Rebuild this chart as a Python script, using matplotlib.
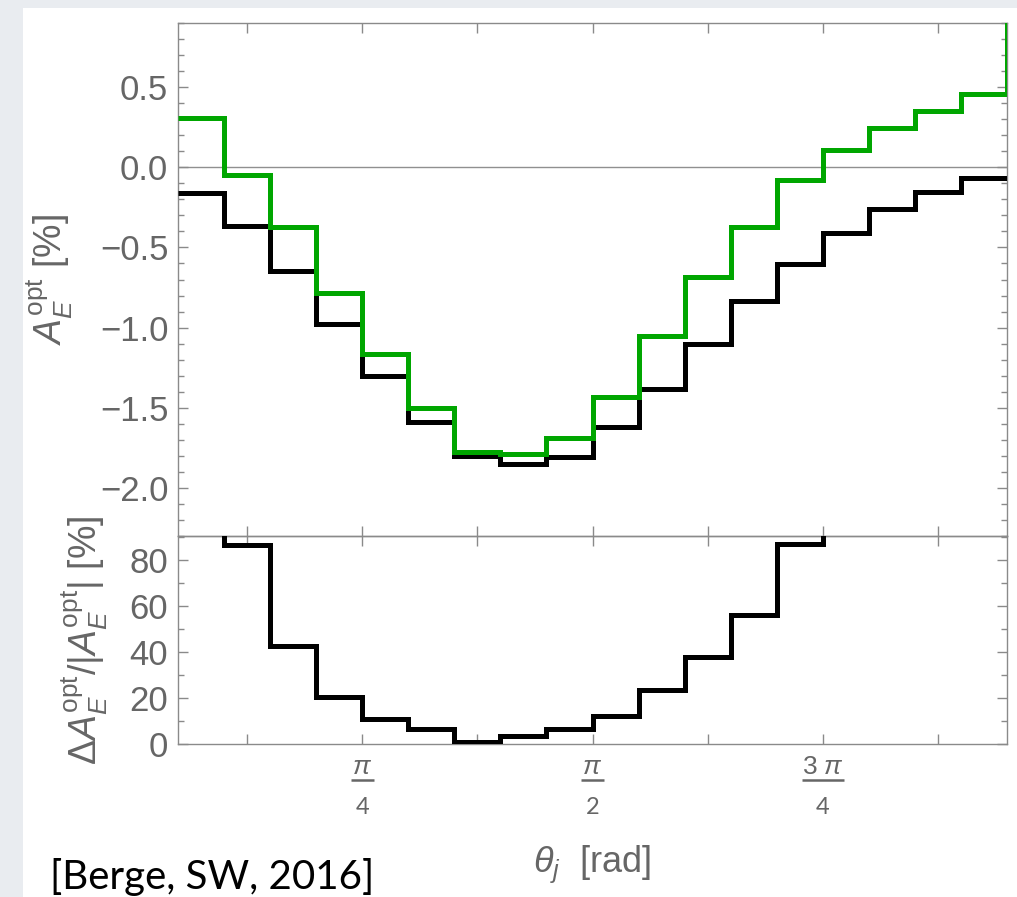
import numpy as np
import matplotlib
matplotlib.use('Agg')
import matplotlib.pyplot as plt
import matplotlib.transforms as mtransforms
from matplotlib.patches import Rectangle
from matplotlib.ticker import MultipleLocator, FuncFormatter

plt.rcParams['font.family'] = ['Liberation Sans', 'DejaVu Sans']
plt.rcParams['mathtext.fontset'] = 'custom'
plt.rcParams['mathtext.rm'] = 'Liberation Sans'
plt.rcParams['mathtext.it'] = 'Liberation Sans:italic'
plt.rcParams['mathtext.bf'] = 'Liberation Sans:bold'

# bins of width pi/20; the last edge lies just outside the frame
bin_edges = np.pi / 20 * np.arange(1, 21)

# A_E^opt [%] per bin (black: reference, green: alternative)
a_black = [-0.16, -0.365, -0.65, -0.975, -1.305, -1.59, -1.80, -1.85, -1.81,
           -1.62, -1.38, -1.105, -0.835, -0.605, -0.41, -0.26, -0.155, -0.065]
a_green = [0.31, -0.05, -0.37, -0.785, -1.165, -1.50, -1.775, -1.79, -1.69,
           -1.43, -1.055, -0.685, -0.37, -0.08, 0.11, 0.245, 0.35, 0.46, 1.5]

# relative difference [%] (values above 90 run off the frame)
rel_diff = [290, 86.5, 42.6, 20.4, 10.9, 6.5, 0.9, 3.5, 6.5,
            12.2, 23.5, 37.8, 56.0, 87.0, 127, 190, 330, 850]

xtick_pos = np.pi / 8 * np.arange(1, 8)
xlabels = [(np.pi / 4, r'$\pi$', '4'), (np.pi / 2, r'$\pi$', '2'), (3 * np.pi / 4, r'3 $\pi$', '4')]

GRAY = '#666666'
SPINE = '#8a8a8a'
W, H = 1017, 897

fig = plt.figure(figsize=(W / 100, H / 100), dpi=100)
fig.patch.set_facecolor('#e9ecf0')
fig.add_artist(Rectangle((23 / W, 0), 1, (H - 8) / H, transform=fig.transFigure,
                         facecolor='white', edgecolor='none', zorder=0))

ax1 = fig.add_axes([178 / W, (H - 536) / H, 829 / W, 513 / H])
ax2 = fig.add_axes([178 / W, (H - 744) / H, 829 / W, 208 / H])

ax1.axhline(0, color='#909090', lw=1.0, zorder=1)
p = ax1.stairs(a_black, bin_edges[:19], baseline=None, color='black', lw=3.6, zorder=3)
p.set_joinstyle('miter')
p = ax1.stairs(a_green, bin_edges, baseline=None, color='#00a600', lw=3.6, zorder=4)
p.set_joinstyle('miter')
p = ax2.stairs(rel_diff, bin_edges[:19], baseline=None, color='black', lw=3.6, zorder=3)
p.set_joinstyle('miter')

for ax in (ax1, ax2):
    ax.set_facecolor('none')
    ax.set_xlim(np.pi / 20, 19 * np.pi / 20)
    ax.set_xticks(xtick_pos)
    ax.set_xticklabels([])
    for s in ax.spines.values():
        s.set_color(SPINE)
        s.set_linewidth(1.0)
    ax.tick_params(which='both', direction='in', top=True, right=True,
                   color=SPINE, labelcolor=GRAY, labelsize=25, pad=7)
    ax.tick_params(which='major', length=7, width=1.0)
    ax.tick_params(which='minor', length=4.3, width=1.0)
    ax.tick_params(axis='x', which='both', length=7)

ax1.set_ylim(-2.3, 0.9)
ax1.yaxis.set_major_locator(MultipleLocator(0.5))
ax1.yaxis.set_minor_locator(MultipleLocator(0.1))
ax1.yaxis.set_major_formatter(FuncFormatter(
    lambda v, pos: ('%.1f' % (0.0 if abs(v) < 1e-9 else v)).replace('-', '\u2212')))

ax2.set_ylim(0, 90.4)
ax2.yaxis.set_major_locator(MultipleLocator(20))
ax2.yaxis.set_minor_locator(MultipleLocator(10))

ax1.set_ylabel(r'$A_E^{\mathrm{opt}}$ [%]', fontsize=27, color=GRAY)
ax1.yaxis.set_label_coords(-0.124, 0.5)
ax2.set_ylabel(r'$\Delta A_E^{\mathrm{opt}}/|A_E^{\mathrm{opt}}|$ [%]', fontsize=27, color=GRAY)
ax2.yaxis.set_label_coords(-0.082, 0.5)

ax2.set_xlabel(r'$\theta_j$  [rad]', fontsize=26, color=GRAY)
ax2.xaxis.set_label_coords(0.5, -0.48)

# fraction tick labels under the lower panel
trans = mtransforms.blended_transform_factory(ax2.transData, fig.transFigure)
px = (np.pi / 4) / 230
for xv, num, den in xlabels:
    ax2.text(xv, (H - 774) / H, num, transform=trans, ha='center', va='baseline',
             fontsize=19, color=GRAY)
    half = (21 if num.startswith('3') else 11.5) * px
    ax2.plot([xv - half, xv + half], [(H - 780) / H] * 2, transform=trans,
             color=GRAY, lw=1.8, clip_on=False, solid_capstyle='butt')
    ax2.text(xv, (H - 814) / H, den, transform=trans, ha='center', va='baseline',
             fontsize=17, color=GRAY, family=['Lato', 'DejaVu Sans'])

fig.text(50 / W, (H - 889) / H, '[Berge, SW, 2016]', fontsize=29,
         family=['Lato', 'DejaVu Sans'], color='black', va='baseline')

fig.savefig('out.png', dpi=100, facecolor=fig.get_facecolor())
